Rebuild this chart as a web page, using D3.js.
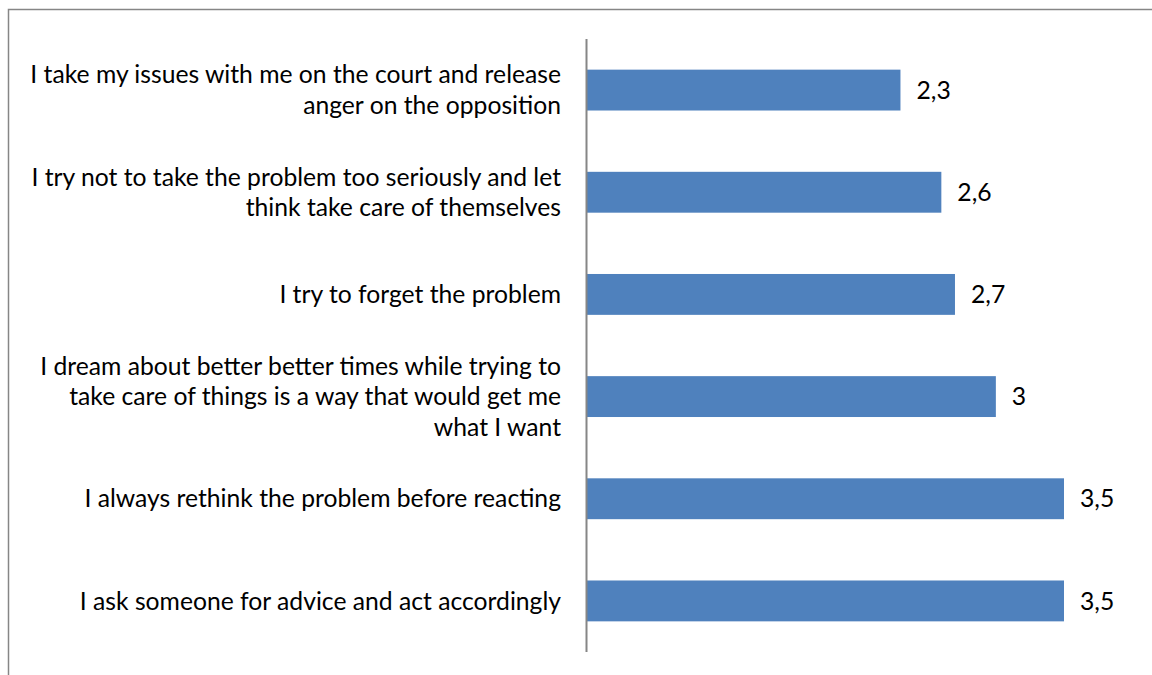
<!DOCTYPE html>
<html>
<head>
<meta charset="utf-8">
<script src="https://cdn.jsdelivr.net/npm/d3@7"></script>
<style>
  html, body { margin: 0; padding: 0; background: #fff; }
  svg { display: block; }
</style>
</head>
<body>
<svg id="chart" width="1152" height="675"></svg>
<script>
// Category labels, one array of lines per category (top to bottom)
const categories = [
  ["I take my issues with me on the court and release", "anger on the opposition"],
  ["I try not to take the problem too seriously and let", "think take care of themselves"],
  ["I try to forget the problem"],
  ["I dream about better better times while trying to", "take care of things is a way that would get me", "what I want"],
  ["I always rethink the problem before reacting"],
  ["I ask someone for advice and act accordingly"]
];
const values = [2.3, 2.6, 2.7, 3, 3.5, 3.5];
const valueLabels = ["2,3", "2,6", "2,7", "3", "3,5", "3,5"];

const svg = d3.select("#chart");
const W = 1152, H = 675;
const fontFamily = "Lato, 'Open Sans', sans-serif";
const fontSize = 24.7;

// Chart frame
svg.append("rect")
  .attr("x", 8.5).attr("y", 9.5)
  .attr("width", W + 10).attr("height", H + 10)
  .attr("fill", "none").attr("stroke", "#868686").attr("stroke-width", 1.5);

const plot = { left: 587, right: 1064, top: 39, bottom: 652 };

const x = d3.scaleLinear().domain([0, 3.5]).range([plot.left, plot.right]);
const y = d3.scaleBand()
  .domain(d3.range(values.length))
  .range([plot.top, plot.bottom])
  .paddingInner(0.6)
  .paddingOuter(0.3);

// Bars
svg.append("g").selectAll("rect")
  .data(values)
  .join("rect")
  .attr("x", x(0))
  .attr("y", (d, i) => y(i))
  .attr("width", d => x(d) - x(0))
  .attr("height", y.bandwidth())
  .attr("fill", "#4F81BD");

// Category axis line
const axis = d3.axisLeft(y).tickSize(0).tickFormat("");
const axisG = svg.append("g")
  .attr("transform", `translate(${plot.left - 0.5},0)`)
  .call(axis);
axisG.select(".domain")
  .attr("d", `M0,${plot.top}V${plot.bottom}`)
  .attr("stroke", "#868686").attr("stroke-width", 2);

// Category labels (right aligned, multi-line)
const lineH = 30.5;
const lab = svg.append("g")
  .attr("font-family", fontFamily)
  .attr("font-size", fontSize)
  .attr("fill", "#000")
  .attr("text-anchor", "end");
categories.forEach((lines, i) => {
  const cy = y(i) + y.bandwidth() / 2;
  const t = lab.append("text").attr("x", 561);
  lines.forEach((ln, k) => {
    t.append("tspan")
      .attr("x", 561)
      .attr("y", cy + (k - (lines.length - 1) / 2) * lineH)
      .attr("dy", "0.35em")
      .text(ln);
  });
});

// Value labels
svg.append("g")
  .attr("font-family", fontFamily)
  .attr("font-size", fontSize)
  .attr("fill", "#000")
  .selectAll("text")
  .data(values)
  .join("text")
  .attr("x", d => x(d) + 16)
  .attr("y", (d, i) => y(i) + y.bandwidth() / 2)
  .attr("dy", "0.35em")
  .text((d, i) => valueLabels[i]);
</script>
</body>
</html>
